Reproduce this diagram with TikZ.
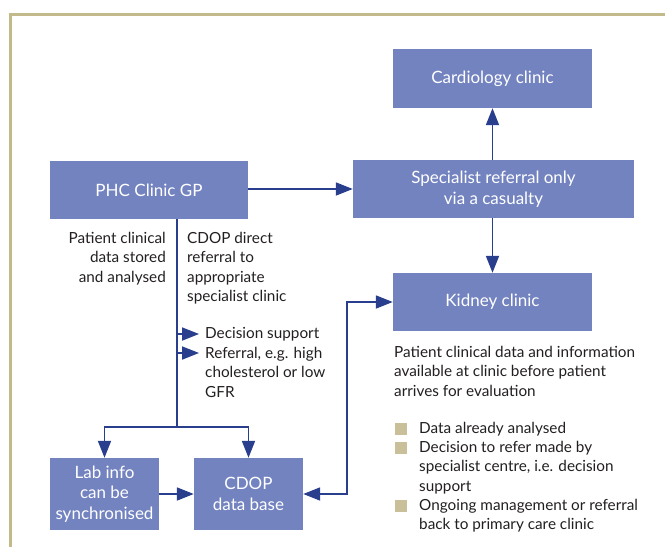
\documentclass[tikz,border=0pt]{standalone}
\usepackage{fontspec}
\setmainfont{Lato}
\usetikzlibrary{arrows.meta}

\definecolor{boxblue}{RGB}{115,131,192}
\definecolor{arrowblue}{RGB}{42,62,142}
\definecolor{frametan}{RGB}{194,186,138}
\definecolor{bullettan}{RGB}{201,191,153}
\definecolor{inktext}{RGB}{35,31,32}

\tikzset{
  clinic/.style={fill=boxblue, text=white, inner sep=0pt, align=center,
    font=\fontsize{17}{20.5}\selectfont},
  flow/.style={draw=arrowblue, line width=1.8pt, -{Triangle[length=17pt,width=13pt]}},
  twoway/.style={flow, {Triangle[length=17pt,width=13pt]}-{Triangle[length=17pt,width=13pt]}},
  note/.style={text=inktext, inner sep=0pt, font=\fontsize{15.3}{19.3}\selectfont},
  bulletsq/.style={fill=bullettan, minimum size=11.5pt, inner sep=0pt},
}

\begin{document}
\begin{tikzpicture}[x=1pt,y=-1pt]
    \useasboundingbox (0,0) rectangle (665,547);
    \draw[frametan, line width=3pt] (10.5,547) -- (10.5,14.5) -- (665,14.5);

    \node[clinic, minimum width=199pt, minimum height=59pt] (cardio) at (492.5,78.5) {Cardiology clinic};
    \node[clinic, minimum width=281pt, minimum height=58pt] (spec) at (493.5,189) {Specialist referral only\\via a casualty};
    \node[clinic, minimum width=199pt, minimum height=58pt] (kidney) at (492.5,302) {Kidney clinic};
    \node[clinic, minimum width=198pt, minimum height=58pt] (phc) at (149,190) {PHC Clinic GP};
    \node[clinic, minimum width=109pt, minimum height=72pt] (lab) at (104.5,494) {Lab info\\can be\\synchronised};
    \node[clinic, minimum width=109pt, minimum height=72pt] (cdop) at (248.5,494) {CDOP\\data base};

    \coordinate (top) at (177,219);
    \coordinate (split) at (177,427);
    \coordinate (bend) at (347,400);
    \coordinate (decA) at (177,334);
    \coordinate (refA) at (177,353);

    \draw[flow] (phc.east |- spec.west) -- (spec.west);
    \draw[flow] (spec.north -| cardio.south) -- (cardio.south);
    \draw[flow] (spec.south -| kidney.north) -- (kidney.north);
    \draw[draw=arrowblue, line width=1.8pt] (top) -- (split);
    \draw[flow] (split) -| (lab.north);
    \draw[flow] (split) -| (cdop.north);
    \draw[flow] (lab.east) -- (cdop.west);
    \draw[twoway] (cdop.east) -| (bend) |- (kidney.west);

    \node[note, anchor=north east, align=right] (stored) at (166,232) {Patient clinical\\data stored\\and analysed};
    \node[note, anchor=north west, align=left] (direct) at (187,232) {CDOP direct\\referral to\\appropriate\\specialist clinic};
    \node[note, anchor=west] (dec) at (205,334) {Decision support};
    \node[note, anchor=north west, align=left] (ref) at (205,347) {Referral, e.g. high\\cholesterol or low\\GFR};
    \draw[flow] (decA) -- ([xshift=-6pt]dec.west);
    \draw[flow] (refA) -- ([xshift=-6pt]refA -| ref.west);

    \node[note, anchor=north west, align=left] (avail) at (394,346) {Patient clinical data and information\\available at clinic before patient\\arrives for evaluation};
    \node[bulletsq] (sq1) at (401,429) {};
    \node[bulletsq] (sq2) at (401,448) {};
    \node[bulletsq] (sq3) at (401,506) {};
    \node[note, anchor=north west, align=left] (pt1) at (419,422) {Data already analysed};
    \node[note, anchor=north west, align=left] (pt2) at (419,441) {Decision to refer made by\\specialist centre, i.e. decision\\support};
    \node[note, anchor=north west, align=left] (pt3) at (419,499) {Ongoing management or referral\\back to primary care clinic};
\end{tikzpicture}
\end{document}
